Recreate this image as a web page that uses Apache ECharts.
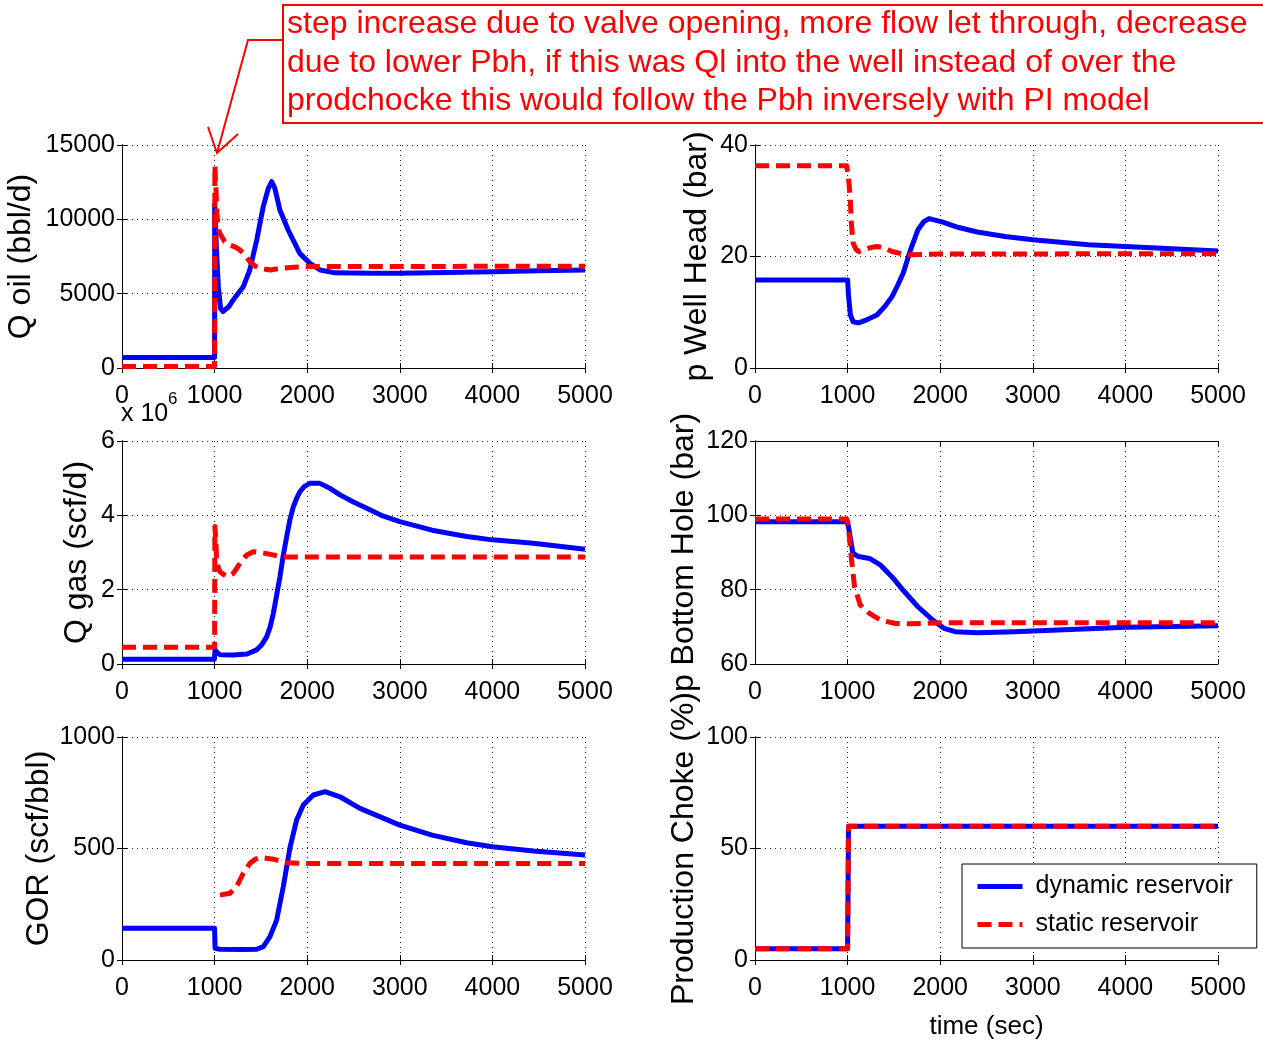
<!DOCTYPE html>
<html>
<head>
<meta charset="utf-8">
<title>dynamic x static reservoir</title>
<script src="https://cdn.jsdelivr.net/npm/echarts@6.0.0/dist/echarts.min.js"></script>
<style>
html, body { margin: 0; padding: 0; background: #fff; }
#grafico { width: 1263px; height: 1050px; }
</style>
</head>
<body>
<div id="grafico"></div>
<script>
'use strict';

// eixo x (time, sec) igual em todos
var xTicks = [0, 1000, 2000, 3000, 4000, 5000];

// Q oil (bbl/d)
var tOilDyn = [0, 1000, 1001, 1020, 1040, 1065, 1090, 1150, 1200, 1310, 1380, 1455, 1525, 1580, 1617, 1650, 1705, 1795, 1920, 2030, 2140, 2300, 2700, 3000, 3500, 4000, 4500, 5000];
var oilDyn  = [700, 700, 11000, 8000, 5500, 4000, 3800, 4100, 4570, 5470, 6590, 8610, 10850, 12080, 12530, 12100, 10630, 9280, 7710, 7040, 6590, 6400, 6370, 6380, 6420, 6480, 6540, 6600];
var tOilSta = [0, 1000, 1003, 1015, 1025, 1040, 1070, 1110, 1166, 1220, 1274, 1330, 1382, 1440, 1490, 1600, 1706, 1850, 2000, 5000];
var oilSta  = [100, 100, 13600, 12000, 10400, 9300, 8900, 8500, 8270, 8150, 7940, 7550, 7150, 6850, 6700, 6590, 6700, 6780, 6820, 6850];

// p Well Head (bar)
var tWhDyn = [0, 1000, 1010, 1030, 1060, 1117, 1200, 1317, 1400, 1480, 1540, 1600, 1680, 1760, 1820, 1880, 2020, 2200, 2400, 2700, 3000, 3600, 4000, 4500, 5000];
var whDyn  = [15.8, 15.8, 13, 9.5, 8.3, 8.1, 8.6, 9.5, 11, 12.8, 14.8, 17, 21.2, 24.8, 26.2, 26.8, 26.2, 25.2, 24.4, 23.6, 23.0, 22.1, 21.8, 21.4, 21.0];
var tWhSta = [0, 990, 1010, 1028, 1040, 1060, 1090, 1120, 1180, 1250, 1320, 1400, 1480, 1580, 1680, 2000, 5000];
var whSta  = [36.3, 36.3, 34, 30.7, 26, 22.4, 21.3, 20.9, 21.2, 21.6, 21.8, 21.5, 20.9, 20.5, 20.3, 20.45, 20.5];

// Q gas (scf/d), em 10^6
var tGasDyn = [0, 998, 1005, 1030, 1060, 1200, 1350, 1454, 1510, 1562, 1600, 1634, 1670, 1706, 1740, 1778, 1815, 1850, 1890, 1922, 1970, 2030, 2138, 2250, 2354, 2500, 2642, 2800, 3000, 3348, 3722, 4000, 4442, 5000];
var gasDyn  = [0.13, 0.13, 0.38, 0.3, 0.25, 0.24, 0.27, 0.38, 0.52, 0.73, 1.0, 1.36, 1.85, 2.35, 2.9, 3.42, 3.9, 4.23, 4.48, 4.64, 4.78, 4.86, 4.86, 4.72, 4.55, 4.36, 4.19, 4.0, 3.83, 3.6, 3.43, 3.34, 3.25, 3.09];
var tGasSta = [0, 1000, 1003, 1012, 1022, 1040, 1058, 1130, 1202, 1274, 1346, 1418, 1500, 1562, 1700, 1778, 5000];
var gasSta  = [0.45, 0.45, 3.7, 3.4, 2.8, 2.6, 2.48, 2.35, 2.44, 2.71, 2.93, 3.02, 3.0, 2.97, 2.9, 2.88, 2.88];

// p Bottom Hole (bar)
var tBhDyn = [0, 1000, 1015, 1057, 1117, 1237, 1357, 1478, 1598, 1759, 1920, 2041, 2160, 2402, 2803, 3204, 4006, 5000];
var bhDyn  = [98.3, 98.3, 96.1, 89.8, 88.9, 88.4, 86.6, 83.5, 79.9, 75.4, 71.8, 69.6, 68.7, 68.4, 68.7, 69.1, 69.9, 70.3];
var tBhSta = [0, 990, 1015, 1043, 1075, 1136, 1237, 1357, 1518, 1679, 2000, 5000];
var bhSta  = [99.0, 99.0, 95.2, 88, 80.8, 75.9, 73.6, 71.8, 70.9, 70.8, 71.1, 71.1];

// GOR (scf/bbl) - static so aparece depois de 1000
var tGorDyn = [0, 1000, 1005, 1058, 1300, 1454, 1526, 1598, 1670, 1742, 1814, 1886, 1958, 2066, 2192, 2354, 2570, 3000, 3348, 3722, 4000, 4442, 5000];
var gorDyn  = [142, 142, 52, 48, 47, 48, 60, 105, 179, 329, 504, 628, 695, 740, 755, 732, 680, 605, 560, 526, 508, 489, 471];
var tGorSta = [1058, 1166, 1238, 1310, 1382, 1440, 1490, 1634, 1778, 2000, 5000];
var gorSta  = [291, 299, 329, 389, 434, 452, 460, 452, 436, 433, 433];

// Production Choke (%)
var tChoke   = [0, 1000, 1010, 5000];
var chokeDyn = [5, 5, 60, 60];
var chokeSta = [5, 5, 60, 60];

var nomeDyn = 'dynamic reservoir';
var nomeSta = 'static reservoir';

var fonte = '"Liberation Sans", Arial, Helvetica, sans-serif';
var azul = '#0000ff';
var vermelho = '#ff0000';

// layout dos 6 graficos
var paineis = [
    {left: 122, top: 145, min: 0,  max: 15000, interval: 5000, nome: 'Q oil (bbl/d)',        gap: 85},
    {left: 755, top: 145, min: 0,  max: 40,    interval: 20,   nome: 'p Well Head (bar)',    gap: 42},
    {left: 122, top: 441, min: 0,  max: 6,     interval: 2,    nome: 'Q gas (scf/d)',        gap: 29},
    {left: 755, top: 441, min: 60, max: 120,   interval: 20,   nome: 'p Bottom Hole (bar)',  gap: 55},
    {left: 122, top: 737, min: 0,  max: 1000,  interval: 500,  nome: 'GOR (scf/bbl)',        gap: 67},
    {left: 755, top: 737, min: 0,  max: 100,   interval: 50,   nome: 'Production Choke (%)', gap: 55}
];

var curvas = [
    [tOilDyn, oilDyn, tOilSta, oilSta],
    [tWhDyn, whDyn, tWhSta, whSta],
    [tGasDyn, gasDyn, tGasSta, gasSta],
    [tBhDyn, bhDyn, tBhSta, bhSta],
    [tGorDyn, gorDyn, tGorSta, gorSta],
    [tChoke, chokeDyn, tChoke, chokeSta]
];

function junta(t, v) {
    var out = [];
    for (var i = 0; i < t.length; i++) out.push([t[i], v[i]]);
    return out;
}

// sem separador de milhar
function numero(v) {
    return String(v);
}

function serie(nome, idx, t, v, cor, tracejado) {
    return {
        name: nome,
        type: 'line',
        xAxisIndex: idx,
        yAxisIndex: idx,
        data: junta(t, v),
        symbol: 'none',
        lineStyle: {color: cor, width: 5, type: tracejado ? [14, 7] : 'solid', cap: 'butt', join: 'round'},
        itemStyle: {color: cor},
        z: tracejado ? 4 : 3,
        silent: true
    };
}

var linhaEixo = {show: true, lineStyle: {color: '#000', width: 1}};
var grade = {show: true, lineStyle: {color: '#222', width: 1, type: [1, 4]}};
var tick = {show: true, inside: true, length: 5, lineStyle: {color: '#000'}};

var grids = [], xAxes = [], yAxes = [], series = [];
var xAxesTopo = [], yAxesDir = [];

for (var i = 0; i < paineis.length; i++) {
    var p = paineis[i];
    grids.push({left: p.left, top: p.top, width: 463, height: 223, containLabel: false});

    xAxes.push({
        type: 'value', gridIndex: i, position: 'bottom',
        min: xTicks[0], max: xTicks[xTicks.length - 1], interval: 1000,
        axisLine: linhaEixo,
        axisTick: tick,
        axisLabel: {color: '#000', fontSize: 25, fontFamily: fonte, margin: 16, formatter: numero},
        splitLine: grade,
        name: i === 5 ? 'time (sec)' : '',
        nameLocation: 'middle',
        nameGap: 54,
        nameTextStyle: {color: '#000', fontSize: 26, fontFamily: fonte}
    });
    xAxesTopo.push({
        type: 'value', gridIndex: i, position: 'top',
        min: xTicks[0], max: xTicks[xTicks.length - 1], interval: 1000,
        axisLine: linhaEixo,
        axisTick: tick,
        axisLabel: {show: false},
        splitLine: {show: false}
    });

    yAxes.push({
        type: 'value', gridIndex: i, position: 'left',
        min: p.min, max: p.max, interval: p.interval,
        axisLine: linhaEixo,
        axisTick: tick,
        axisLabel: {color: '#000', fontSize: 25, fontFamily: fonte, margin: 7, formatter: numero},
        splitLine: grade,
        name: p.nome,
        nameLocation: 'middle',
        nameRotate: 90,
        nameGap: p.gap,
        nameTextStyle: {color: '#000', fontSize: 32, fontFamily: fonte}
    });
    yAxesDir.push({
        type: 'value', gridIndex: i, position: 'right',
        min: p.min, max: p.max, interval: p.interval,
        axisLine: linhaEixo,
        axisTick: tick,
        axisLabel: {show: false},
        splitLine: {show: false}
    });

    var c = curvas[i];
    series.push(serie(nomeDyn, i, c[0], c[1], azul, false));
    series.push(serie(nomeSta, i, c[2], c[3], vermelho, true));
}

var estiloTexto = {font: '32px ' + fonte, fill: vermelho, verticalAlign: 'middle', align: 'left'};
var linhasNota = [
    'step increase due to valve opening, more flow let through, decrease',
    'due to lower Pbh, if this was Ql into the well instead of over the',
    'prodchocke this would follow the Pbh inversely with PI model'
];
var yNota = [24, 63, 101];

var graficos = [
    {type: 'rect', shape: {x: 283, y: 5, width: 1000, height: 118}, style: {fill: 'none', stroke: vermelho, lineWidth: 2}},
    {type: 'polyline', shape: {points: [[283, 40], [248, 40], [217, 153]]}, style: {fill: 'none', stroke: vermelho, lineWidth: 2}},
    {type: 'polyline', shape: {points: [[208, 127], [217, 153], [238, 134]]}, style: {fill: 'none', stroke: vermelho, lineWidth: 2}},
    {type: 'text', x: 121, y: 414, style: {text: 'x 10', font: '25px ' + fonte, fill: '#000', verticalAlign: 'middle'}},
    {type: 'text', x: 168, y: 399, style: {text: '6', font: '17px ' + fonte, fill: '#000', verticalAlign: 'middle'}}
];
for (var k = 0; k < linhasNota.length; k++) {
    graficos.push({type: 'text', x: 287, y: yNota[k], style: Object.assign({text: linhasNota[k]}, estiloTexto)});
}

var myChart = echarts.init(document.getElementById('grafico'));
var option = {
    animation: false,
    backgroundColor: '#fff',
    grid: grids,
    xAxis: xAxes.concat(xAxesTopo),
    yAxis: yAxes.concat(yAxesDir),
    legend: {
        show: true,
        left: 962,
        top: 864,
        orient: 'vertical',
        backgroundColor: '#fff',
        borderColor: '#000',
        borderWidth: 1,
        padding: [10, 24, 11, 13],
        itemWidth: 45,
        itemHeight: 14,
        itemGap: 13,
        itemStyle: {opacity: 0},
        lineStyle: {width: 5},
        textStyle: {color: '#000', fontSize: 25, fontFamily: fonte, padding: [0, 0, 0, 8]},
        data: [nomeDyn, nomeSta]
    },
    graphic: graficos,
    series: series
};

myChart.setOption(option);
</script>
</body>
</html>
